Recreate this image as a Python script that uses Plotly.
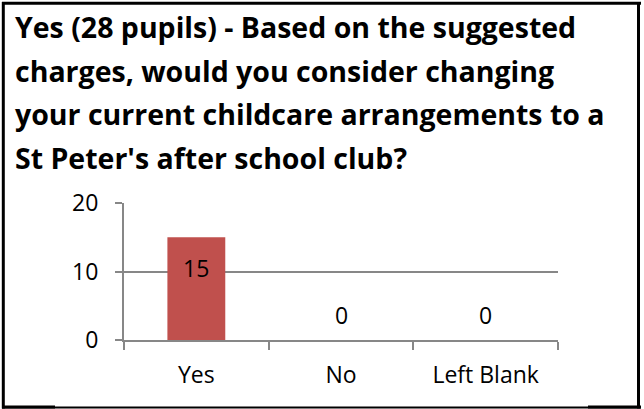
import plotly.graph_objects as go

# Survey answers and counts
categories = ["Yes", "No", "Left Blank"]
counts = [15, 0, 0]
y_ticks = [0, 10, 20]
title_lines = [
    "Yes (28 pupils) - Based on the suggested",
    "charges, would you consider changing",
    "your current childcare arrangements to a",
    "St Peter's after school club?",
]

W, H = 644, 409
L, R, T, B = 124, 86, 203, 69
PW, PH = W - L - R, H - T - B

FONT = "Open Sans"
BAR_COLOR = "#C0504D"
GRID = "#878787"
LABEL_SIZE = 23


def px(x):
    return (x - L) / PW


def py(y):
    return (H - B - y) / PH


fig = go.Figure()
fig.add_trace(go.Bar(
    x=categories, y=counts, width=0.4,
    marker=dict(color=BAR_COLOR, line=dict(width=0)),
    hoverinfo="skip",
))

# value labels: inside the bar top when positive, above the baseline when zero
for c, v in zip(categories, counts):
    fig.add_annotation(
        x=c, y=v, text=str(v), showarrow=False,
        yanchor="middle", yshift=-31 if v > 0 else 25.5,
        font=dict(family=FONT, size=LABEL_SIZE, color="#000000"),
    )

# title, one annotation per line
for i, line in enumerate(title_lines):
    fig.add_annotation(
        xref="paper", yref="paper", x=px(13), y=py(27 + i * 43.5),
        xanchor="left", yanchor="middle", text=f"<b>{line}</b>",
        showarrow=False, font=dict(family=FONT, size=28.5, color="#000000"),
    )

# outer frame
frame = [
    (2, 3.3, 641, 3.3, 3),
    (3.3, 2, 3.3, 408.5, 3),
    (638.5, 2, 638.5, 408.5, 3),
    (2, 407.5, 641, 407.5, 2),
    (2, 407, 55, 407, 3),
    (588, 407, 641, 407, 3),
]
for x0, y0, x1, y1, w in frame:
    fig.add_shape(type="line", xref="paper", yref="paper",
                  x0=px(x0), y0=py(y0), x1=px(x1), y1=py(y1),
                  line=dict(color="#000000", width=w))

fig.update_layout(
    width=W, height=H,
    margin=dict(l=L, r=R, t=T, b=B),
    paper_bgcolor="white", plot_bgcolor="white",
    showlegend=False,
    font=dict(family=FONT, size=LABEL_SIZE, color="#000000"),
    xaxis=dict(
        type="category", tickson="boundaries", ticks="outside",
        ticklen=8, tickwidth=2, tickcolor=GRID,
        showgrid=False, showline=True, linecolor=GRID, linewidth=2,
        tickfont=dict(family=FONT, size=LABEL_SIZE, color="#000000"),
        ticklabelstandoff=13,
    ),
    yaxis=dict(
        range=[0, 20], tickvals=y_ticks, ticks="outside",
        ticklen=7, tickwidth=2, tickcolor=GRID,
        showgrid=True, gridcolor=GRID, gridwidth=2,
        showline=True, linecolor=GRID, linewidth=2,
        zeroline=False,
        tickfont=dict(family=FONT, size=LABEL_SIZE, color="#000000"),
        ticklabelstandoff=12,
    ),
)

fig.write_html("out.html")
